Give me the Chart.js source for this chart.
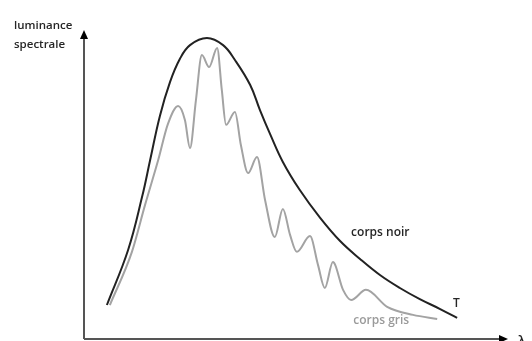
<!DOCTYPE html>
<html>
<head>
<meta charset="utf-8">
<script src="https://cdn.jsdelivr.net/npm/chart.js@4"></script>
<style>
  html, body { margin: 0; padding: 0; background: #fff; }
  #wrap { width: 532px; height: 341px; }
</style>
</head>
<body>
<div id="wrap"><canvas id="c" width="532" height="341"></canvas></div>
<script>
// Wavelength (arbitrary units, 0–100) and spectral luminance (arbitrary units, 0–100)
const blackLambda = [5.4, 10.4, 13.7, 15.6, 17.9, 20.3, 22.6, 25.0, 29.0, 32.8, 35.6, 39.2, 41.5, 43.9, 46.9, 50.9, 55.7, 60.4, 65.1, 69.8, 74.5, 79.2, 84.0, 88.0];
const blackLum    = [11.0, 28.8, 46.0, 57.9, 72.2, 83.2, 90.6, 95.1, 97.4, 95.1, 90.3, 82.2, 74.1, 66.3, 57.3, 48.2, 39.2, 31.7, 25.9, 20.7, 16.5, 12.9, 9.7, 6.8];

const greyLambda = [6.1, 11.3, 14.4, 17.5, 19.8, 22.2, 23.8, 25.0, 26.4, 27.8, 29.5, 31.4, 32.5, 33.5, 35.6, 37.0, 38.7, 40.8, 42.7, 45.0, 46.9, 48.6, 50.2, 53.3, 55.2, 56.8, 58.7, 61.1, 63.0, 66.5, 71.5, 77.6, 83.3];
const greyLum    = [11.0, 28.2, 43.4, 57.9, 69.6, 75.4, 70.9, 61.8, 77.3, 91.9, 88.0, 94.2, 80.6, 69.3, 73.5, 62.8, 53.7, 58.9, 45.0, 33.0, 42.1, 33.7, 28.2, 33.3, 23.9, 16.5, 24.9, 15.9, 12.6, 15.9, 10.4, 7.8, 6.5];

const axisLabels = { y: ['luminance', 'spectrale'], x: 'λ' };
const seriesLabels = { black: 'corps noir', grey: 'corps gris', temp: 'T' };

const toPoints = (xs, ys) => xs.map((x, i) => ({ x: x, y: ys[i] }));

// Axes with arrow heads plus the curve annotations
const sketchAxes = {
  id: 'sketchAxes',
  afterDraw(chart) {
    const { ctx, chartArea: a, scales } = chart;
    const x0 = a.left, y0 = a.bottom;
    ctx.save();
    ctx.strokeStyle = '#555';
    ctx.lineWidth = 2;
    ctx.beginPath();
    ctx.moveTo(x0, y0);
    ctx.lineTo(x0, a.top + 6);
    ctx.moveTo(x0, y0);
    ctx.lineTo(a.right - 6, y0);
    ctx.stroke();
    ctx.fillStyle = '#000';
    ctx.beginPath();
    ctx.moveTo(x0, a.top);
    ctx.lineTo(x0 - 4, a.top + 9);
    ctx.lineTo(x0 + 4, a.top + 9);
    ctx.closePath();
    ctx.fill();
    ctx.beginPath();
    ctx.moveTo(a.right, y0);
    ctx.lineTo(a.right - 9, y0 - 4);
    ctx.lineTo(a.right - 9, y0 + 4);
    ctx.closePath();
    ctx.fill();

    ctx.font = '600 11.5px "Open Sans", sans-serif';
    ctx.textBaseline = 'middle';
    ctx.textAlign = 'left';
    ctx.fillStyle = '#262626';
    ctx.fillText(axisLabels.y[0], 14, 26);
    ctx.fillText(axisLabels.y[1], 14, 45);
    ctx.font = '600 13px "Open Sans", sans-serif';
    ctx.fillText(axisLabels.x, a.right + 10, y0 + 2);

    const sx = scales.x, sy = scales.y;
    ctx.font = '600 12px "Open Sans", sans-serif';
    ctx.fillText(seriesLabels.black, sx.getPixelForValue(63.0), sy.getPixelForValue(34.3));
    ctx.fillText(seriesLabels.temp, sx.getPixelForValue(87.0), sy.getPixelForValue(11.6));
    ctx.fillStyle = '#9a9a9a';
    ctx.fillText(seriesLabels.grey, sx.getPixelForValue(63.5), sy.getPixelForValue(5.8));
    ctx.restore();
  }
};

new Chart(document.getElementById('c'), {
  type: 'line',
  data: {
    datasets: [
      {
        label: seriesLabels.black,
        data: toPoints(blackLambda, blackLum),
        borderColor: '#222',
        borderWidth: 2,
        pointRadius: 0,
        tension: 0.4,
        fill: false
      },
      {
        label: seriesLabels.grey,
        data: toPoints(greyLambda, greyLum),
        borderColor: '#a3a3a3',
        borderWidth: 2,
        pointRadius: 0,
        cubicInterpolationMode: 'monotone',
        fill: false
      }
    ]
  },
  options: {
    responsive: false,
    animation: false,
    layout: { padding: { left: 84, top: 30, right: 24, bottom: 2 } },
    plugins: { legend: { display: false }, tooltip: { enabled: false } },
    scales: {
      x: { type: 'linear', min: 0, max: 100, display: false },
      y: { type: 'linear', min: 0, max: 100, display: false }
    }
  },
  plugins: [sketchAxes]
});
</script>
</body>
</html>
